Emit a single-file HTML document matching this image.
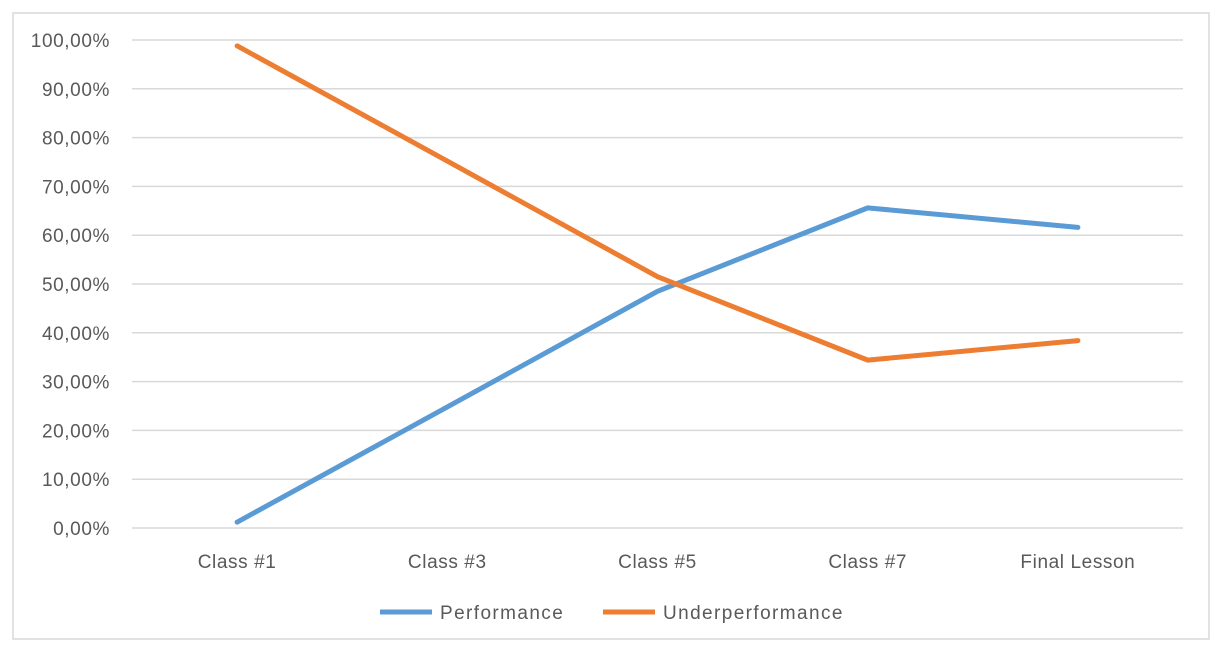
<!DOCTYPE html>
<html><head><meta charset="utf-8"><style>
body{margin:0;background:#fff;width:1222px;height:652px;overflow:hidden;font-family:"Liberation Sans",sans-serif;}
</style></head><body>
<svg width="1222" height="652">
<rect x="13" y="13" width="1196" height="626" fill="#fff" stroke="#d9d9d9" stroke-width="1.5"/>
<g id="grid"></g><g id="ylabels"></g><g id="xlabels"></g><g id="series"></g>
<g>
<line x1="380" y1="612" x2="432" y2="612" stroke="#5b9bd5" stroke-width="5"/>
<text x="440" y="619" font-size="19" letter-spacing="1.4" fill="#595959">Performance</text>
<line x1="603" y1="612" x2="655" y2="612" stroke="#ed7d31" stroke-width="5"/>
<text x="663" y="619" font-size="19" letter-spacing="1.4" fill="#595959">Underperformance</text>
</g>
</svg>
<script>
const categories=["Class #1","Class #3","Class #5","Class #7","Final Lesson"];
const performance=[1.2,24.8,48.5,65.6,61.6];
const underperformance=[98.8,75.2,51.5,34.4,38.4];
const yTicks=[0,10,20,30,40,50,60,70,80,90,100];
const NS="http://www.w3.org/2000/svg";
const x0=132,x1=1183,y0=528,y1=40;
const xs=i=>x0+(x1-x0)/categories.length*(i+0.5);
const ys=v=>y0-(v/100)*(y0-y1);
function mk(t,a,p){const e=document.createElementNS(NS,t);for(const k in a)e.setAttribute(k,a[k]);p.appendChild(e);return e;}
const grid=document.getElementById('grid'),yl=document.getElementById('ylabels'),xl=document.getElementById('xlabels'),se=document.getElementById('series');
yTicks.forEach(v=>{
 const l=mk('line',{x1:x0,x2:x1,y1:ys(v),y2:ys(v),stroke:'#d9d9d9','stroke-width':1.5},grid);
 
 
 const t=mk('text',{x:110,y:ys(v)+7,'font-size':19,'letter-spacing':0.6,fill:'#595959','text-anchor':'end'},yl);
 t.textContent=v.toFixed(2).replace('.',',')+'%';
 
 
});
categories.forEach((c,i)=>{
 const t=mk('text',{x:xs(i),y:568,'font-size':19,'letter-spacing':0.6,fill:'#595959','text-anchor':'middle'},xl);
 t.textContent=c;
 
 
});
[[performance,'#5b9bd5','performance-line'],[underperformance,'#ed7d31','underperformance-line']].forEach(([d,c,n])=>{
 const p=mk('polyline',{points:d.map((v,i)=>xs(i)+','+ys(v)).join(' '),fill:'none',stroke:c,'stroke-width':5,'stroke-linecap':'round','stroke-linejoin':'round'},se);
 
 
});
</script>
</body></html>
